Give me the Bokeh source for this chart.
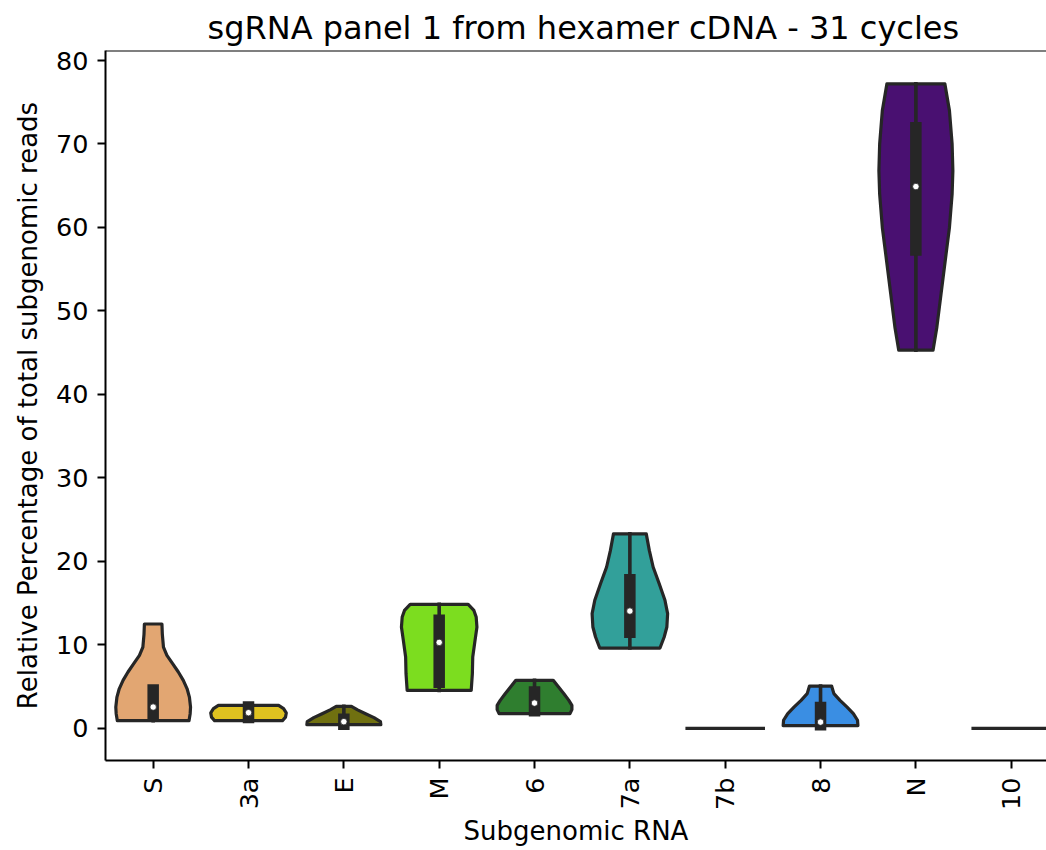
import math
from bokeh.plotting import figure
from bokeh.models import FixedTicker, Span, Range1d
from bokeh.embed import file_html
from bokeh.resources import INLINE

# ---------------- data ----------------
title_text = "sgRNA panel 1 from hexamer cDNA - 31 cycles"
x_label = "Subgenomic RNA"
y_label = "Relative Percentage of total subgenomic reads"

categories = ["S", "3a", "E", "M", "6", "7a", "7b", "8", "N", "10"]
y_ticks = [0, 10, 20, 30, 40, 50, 60, 70, 80]

fill_colors = ["#E2A672", "#DFC220", "#707010", "#7CDD1F", "#2F7E2F",
               "#32A09A", None, "#3A8EE3", "#491071", None]

# violin outlines: value levels (top -> bottom) and relative half-width (1 = widest)
S_y = [12.5, 11.3, 9.74, 8.74, 7.75, 6.75, 5.75, 4.74, 3.75, 2.55, 1.76, 0.92]
S_w = [0.23, 0.24, 0.27, 0.36, 0.51, 0.66, 0.79, 0.89, 0.95, 0.98, 0.97, 0.94]

A3_y = [2.75, 2.36, 1.85, 1.35, 0.92]
A3_w = [0.79, 0.92, 0.99, 0.97, 0.89]

E_y = [2.63, 2.22, 1.75, 1.28, 0.80, 0.44]
E_w = [0.20, 0.36, 0.57, 0.79, 0.96, 0.97]

M_y = [14.85, 14.13, 13.33, 12.14, 10.54, 8.55, 6.55, 4.55]
M_w = [0.76, 0.91, 0.97, 0.99, 0.94, 0.88, 0.87, 0.84]

G6_y = [5.75, 4.95, 4.15, 3.35, 2.75, 2.24, 1.76]
G6_w = [0.49, 0.63, 0.77, 0.90, 0.98, 0.98, 0.93]

A7_y = [23.3, 21.32, 19.33, 17.33, 15.34, 13.74, 12.14, 10.94, 9.62]
A7_w = [0.43, 0.51, 0.61, 0.77, 0.92, 0.99, 0.97, 0.90, 0.79]

G8_y = [5.07, 4.16, 3.36, 2.57, 1.77, 0.97, 0.33]
G8_w = [0.29, 0.35, 0.51, 0.69, 0.86, 0.97, 0.98]

N_y = [77.2, 74.0, 70.0, 66.8, 64.0, 60.0, 56.05, 52.05, 48.06, 45.3]
N_w = [0.76, 0.88, 0.95, 0.97, 0.95, 0.88, 0.77, 0.66, 0.55, 0.45]

profiles_y = [S_y, A3_y, E_y, M_y, G6_y, A7_y, None, G8_y, N_y, None]
profiles_w = [S_w, A3_w, E_w, M_w, G6_w, A7_w, None, G8_w, N_w, None]

# box statistics (inner="box")
q1 = [1.6, 1.29, 0.5, 5.53, 2.1, 11.5, 0.0, 0.42, 57.3, 0.0]
median = [2.55, 1.88, 0.8, 10.3, 3.03, 14.05, 0.0, 0.75, 64.9, 0.0]
q3 = [4.6, 2.57, 1.1, 12.96, 4.37, 17.8, 0.0, 2.5, 71.95, 0.0]
whisk_lo = [0.92, 0.92, 0.44, 4.55, 1.76, 9.62, 0.0, 0.33, 45.3, 0.0]
whisk_hi = [4.6, 2.75, 2.63, 14.85, 5.75, 23.3, 0.0, 5.07, 77.2, 0.0]

# categories whose values are all identical (drawn as a flat line)
single_value = [None, None, None, None, None, None, 0.0, None, None, 0.0]

# ---------------- figure ----------------
FONT = "DejaVu Sans"
EDGE = "#262626"
HALF = 0.4

p = figure(width=1046, height=850, output_backend="svg", toolbar_location=None,
           x_range=Range1d(-0.5, 9.37), y_range=Range1d(-3.85, 81.2),
           min_border_left=105, min_border_right=0, min_border_top=50,
           min_border_bottom=90, title=title_text)
p.background_fill_color = "white"
p.border_fill_color = "white"
p.outline_line_color = None
p.grid.visible = False

p.title.text_font = FONT
p.title.text_font_size = "32px"
p.title.text_font_style = "normal"
p.title.text_color = "black"
p.title.align = "left"
p.title.offset = 102
p.title.standoff = 8

for ax in (p.xaxis[0], p.yaxis[0]):
    ax.axis_line_width = 2
    ax.axis_line_color = "black"
    ax.major_tick_line_width = 2
    ax.major_tick_line_color = "black"
    ax.major_tick_out = 8
    ax.major_tick_in = 0
    ax.minor_tick_out = 0
    ax.minor_tick_in = 0
    ax.major_label_text_font = FONT
    ax.major_label_text_font_size = "25.5px"
    ax.major_label_text_color = "black"
    ax.axis_label_text_font = FONT
    ax.axis_label_text_font_size = "26px"
    ax.axis_label_text_font_style = "normal"
    ax.axis_label_text_color = "black"

p.xaxis.ticker = FixedTicker(ticks=list(range(len(categories))))
p.xaxis.major_label_overrides = {i: c for i, c in enumerate(categories)}
p.xaxis.major_label_orientation = math.pi / 2
p.xaxis.major_label_standoff = 9
p.xaxis.axis_label = x_label
p.xaxis.axis_label_standoff = 3

p.yaxis.ticker = FixedTicker(ticks=y_ticks)
p.yaxis.major_label_standoff = 9
p.yaxis.axis_label = y_label
p.yaxis.axis_label_standoff = 10

# top spine
p.add_layout(Span(location=81.2, dimension="width", line_color="black", line_width=2))

for i, cat in enumerate(categories):
    if single_value[i] is not None:
        p.segment(x0=[i - HALF], y0=[single_value[i]], x1=[i + HALF], y1=[single_value[i]],
                  line_color=EDGE, line_width=3.3, line_cap="square")
        continue
    ys = profiles_y[i]
    ws = profiles_w[i]
    left = [i - HALF * w for w in ws]
    right = [i + HALF * w for w in ws][::-1]
    px = left + right
    py = list(ys) + list(ys)[::-1]
    p.patch(px, py, fill_color=fill_colors[i], line_color=EDGE, line_width=3.2,
            line_join="round")
    p.segment(x0=[i], y0=[whisk_lo[i]], x1=[i], y1=[whisk_hi[i]],
              line_color=EDGE, line_width=3.6, line_cap="square")
    p.segment(x0=[i], y0=[q1[i]], x1=[i], y1=[q3[i]],
              line_color=EDGE, line_width=11.5, line_cap="square")
    p.scatter(x=[i], y=[median[i]], size=6.5, fill_color="white",
              line_color=EDGE, line_width=0.8)

open("out.html", "w").write(file_html(p, INLINE))
